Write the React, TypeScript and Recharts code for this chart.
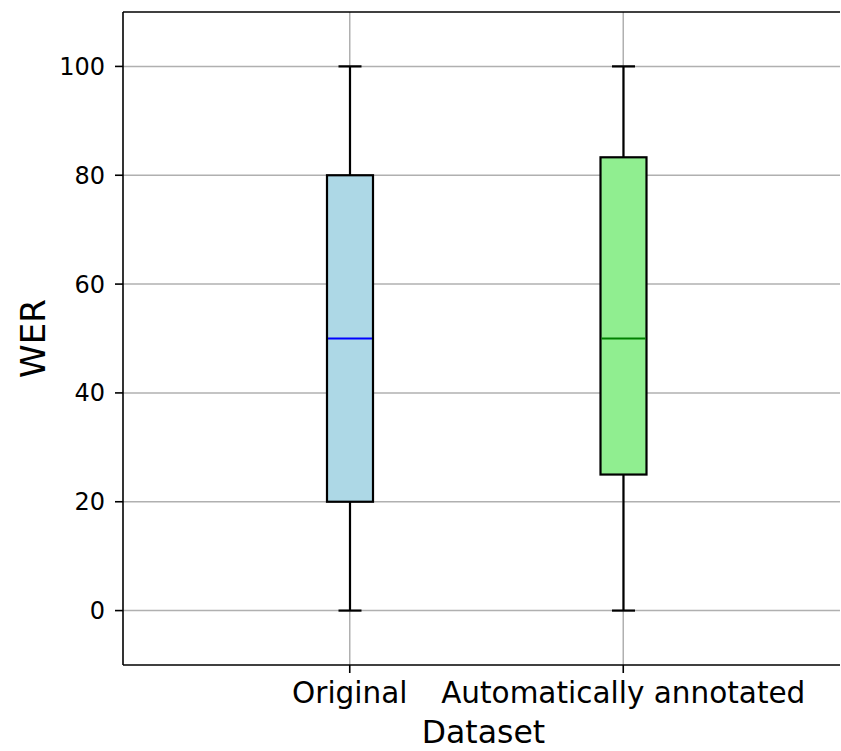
import React from 'react';
import {
    ComposedChart, Bar, XAxis, YAxis, CartesianGrid, ReferenceLine,
} from 'recharts';

const DATASETS = ['Original', 'Automatically annotated'];
const WHISKER_LOW = [0, 0];
const Q1 = [20, 25];
const MEDIAN = [50, 50];
const Q3 = [80, 83.3];
const WHISKER_HIGH = [100, 100];
const BOX_FILLS = ['#add8e6', '#90ee90'];
const MEDIAN_COLORS = ['#0000ff', '#008000'];
const Y_TICKS = [0, 20, 40, 60, 80, 100];

const FONT = '"DejaVu Sans", sans-serif';

const data = DATASETS.map((name, i) => ({
    name,
    range: [WHISKER_LOW[i], WHISKER_HIGH[i]],
    low: WHISKER_LOW[i], q1: Q1[i], med: MEDIAN[i], q3: Q3[i], high: WHISKER_HIGH[i],
    fill: BOX_FILLS[i], medColor: MEDIAN_COLORS[i],
}));

// draws whiskers, caps, box and median inside the bar's scaled geometry
const BoxShape = (props: any) => {
    const { x, y, width, height, payload } = props;
    if (!payload) return null;
    const top = Math.min(y, y + height);
    const h = Math.abs(height);
    const { low, high } = payload;
    const toPx = (v: number) => top + ((high - v) / (high - low)) * h;
    const cx = x + width / 2;
    const capHalf = width / 4;
    const yQ1 = toPx(payload.q1), yQ3 = toPx(payload.q3), yMed = toPx(payload.med);
    const yLo = toPx(low), yHi = toPx(high);
    return (
        <g>
            <line x1={cx} x2={cx} y1={yHi} y2={yQ3} stroke="#000" strokeWidth={2.2} />
            <line x1={cx} x2={cx} y1={yQ1} y2={yLo} stroke="#000" strokeWidth={2.2} />
            <line x1={cx - capHalf} x2={cx + capHalf} y1={yHi} y2={yHi} stroke="#000" strokeWidth={2.2} />
            <line x1={cx - capHalf} x2={cx + capHalf} y1={yLo} y2={yLo} stroke="#000" strokeWidth={2.2} />
            <rect x={x} y={yQ3} width={width} height={yQ1 - yQ3} fill={payload.fill} stroke="#000" strokeWidth={2.2} />
            <line x1={x + 1} x2={x + width - 1} y1={yMed} y2={yMed} stroke={payload.medColor} strokeWidth={2.2} />
        </g>
    );
};

const YLabel = ({ viewBox }: any) => {
    const cy = viewBox.y + viewBox.height / 2;
    return (
        <text x={45} y={cy} transform={`rotate(-90, 45, ${cy})`} textAnchor="middle"
            fontFamily={FONT} fontSize={34} fill="#000">WER</text>
    );
};

const XLabel = ({ viewBox }: any) => {
    const cx = viewBox.x + viewBox.width / 2;
    return (
        <text x={cx + 2} y={743} textAnchor="middle" fontFamily={FONT} fontSize={31.5} fill="#000">Dataset</text>
    );
};

export default function App() {
    return (
        <div style={{ position: 'absolute', left: 0, top: 0, background: '#fff' }}>
            <ComposedChart width={841} height={751} data={data}
                margin={{ top: 12, right: 1, left: 0, bottom: 0 }}>
                <CartesianGrid stroke="#b0b0b0" strokeWidth={1.5} syncWithTicks />
                <XAxis dataKey="name" type="category" height={86}
                    padding={{ left: 90, right: 80 }}
                    tick={{ fill: '#000', fontSize: 29.5, fontFamily: FONT }}
                    tickSize={8} tickMargin={9}
                    axisLine={{ stroke: '#000', strokeWidth: 1.6 }}
                    tickLine={{ stroke: '#000', strokeWidth: 1.6 }}
                    interval={0}
                    label={<XLabel />} />
                <YAxis type="number" domain={[-10, 110]} ticks={Y_TICKS} width={123}
                    allowDataOverflow
                    tick={{ fill: '#000', fontSize: 24, fontFamily: FONT }}
                    tickSize={8} tickMargin={10}
                    axisLine={{ stroke: '#000', strokeWidth: 1.6 }}
                    tickLine={{ stroke: '#000', strokeWidth: 1.6 }}
                    label={<YLabel />} />
                <ReferenceLine y={110} stroke="#000" strokeWidth={1.6} ifOverflow="extendDomain" />
                <Bar dataKey="range" barSize={46} shape={<BoxShape />} isAnimationActive={false} />
            </ComposedChart>
        </div>
    );
}
